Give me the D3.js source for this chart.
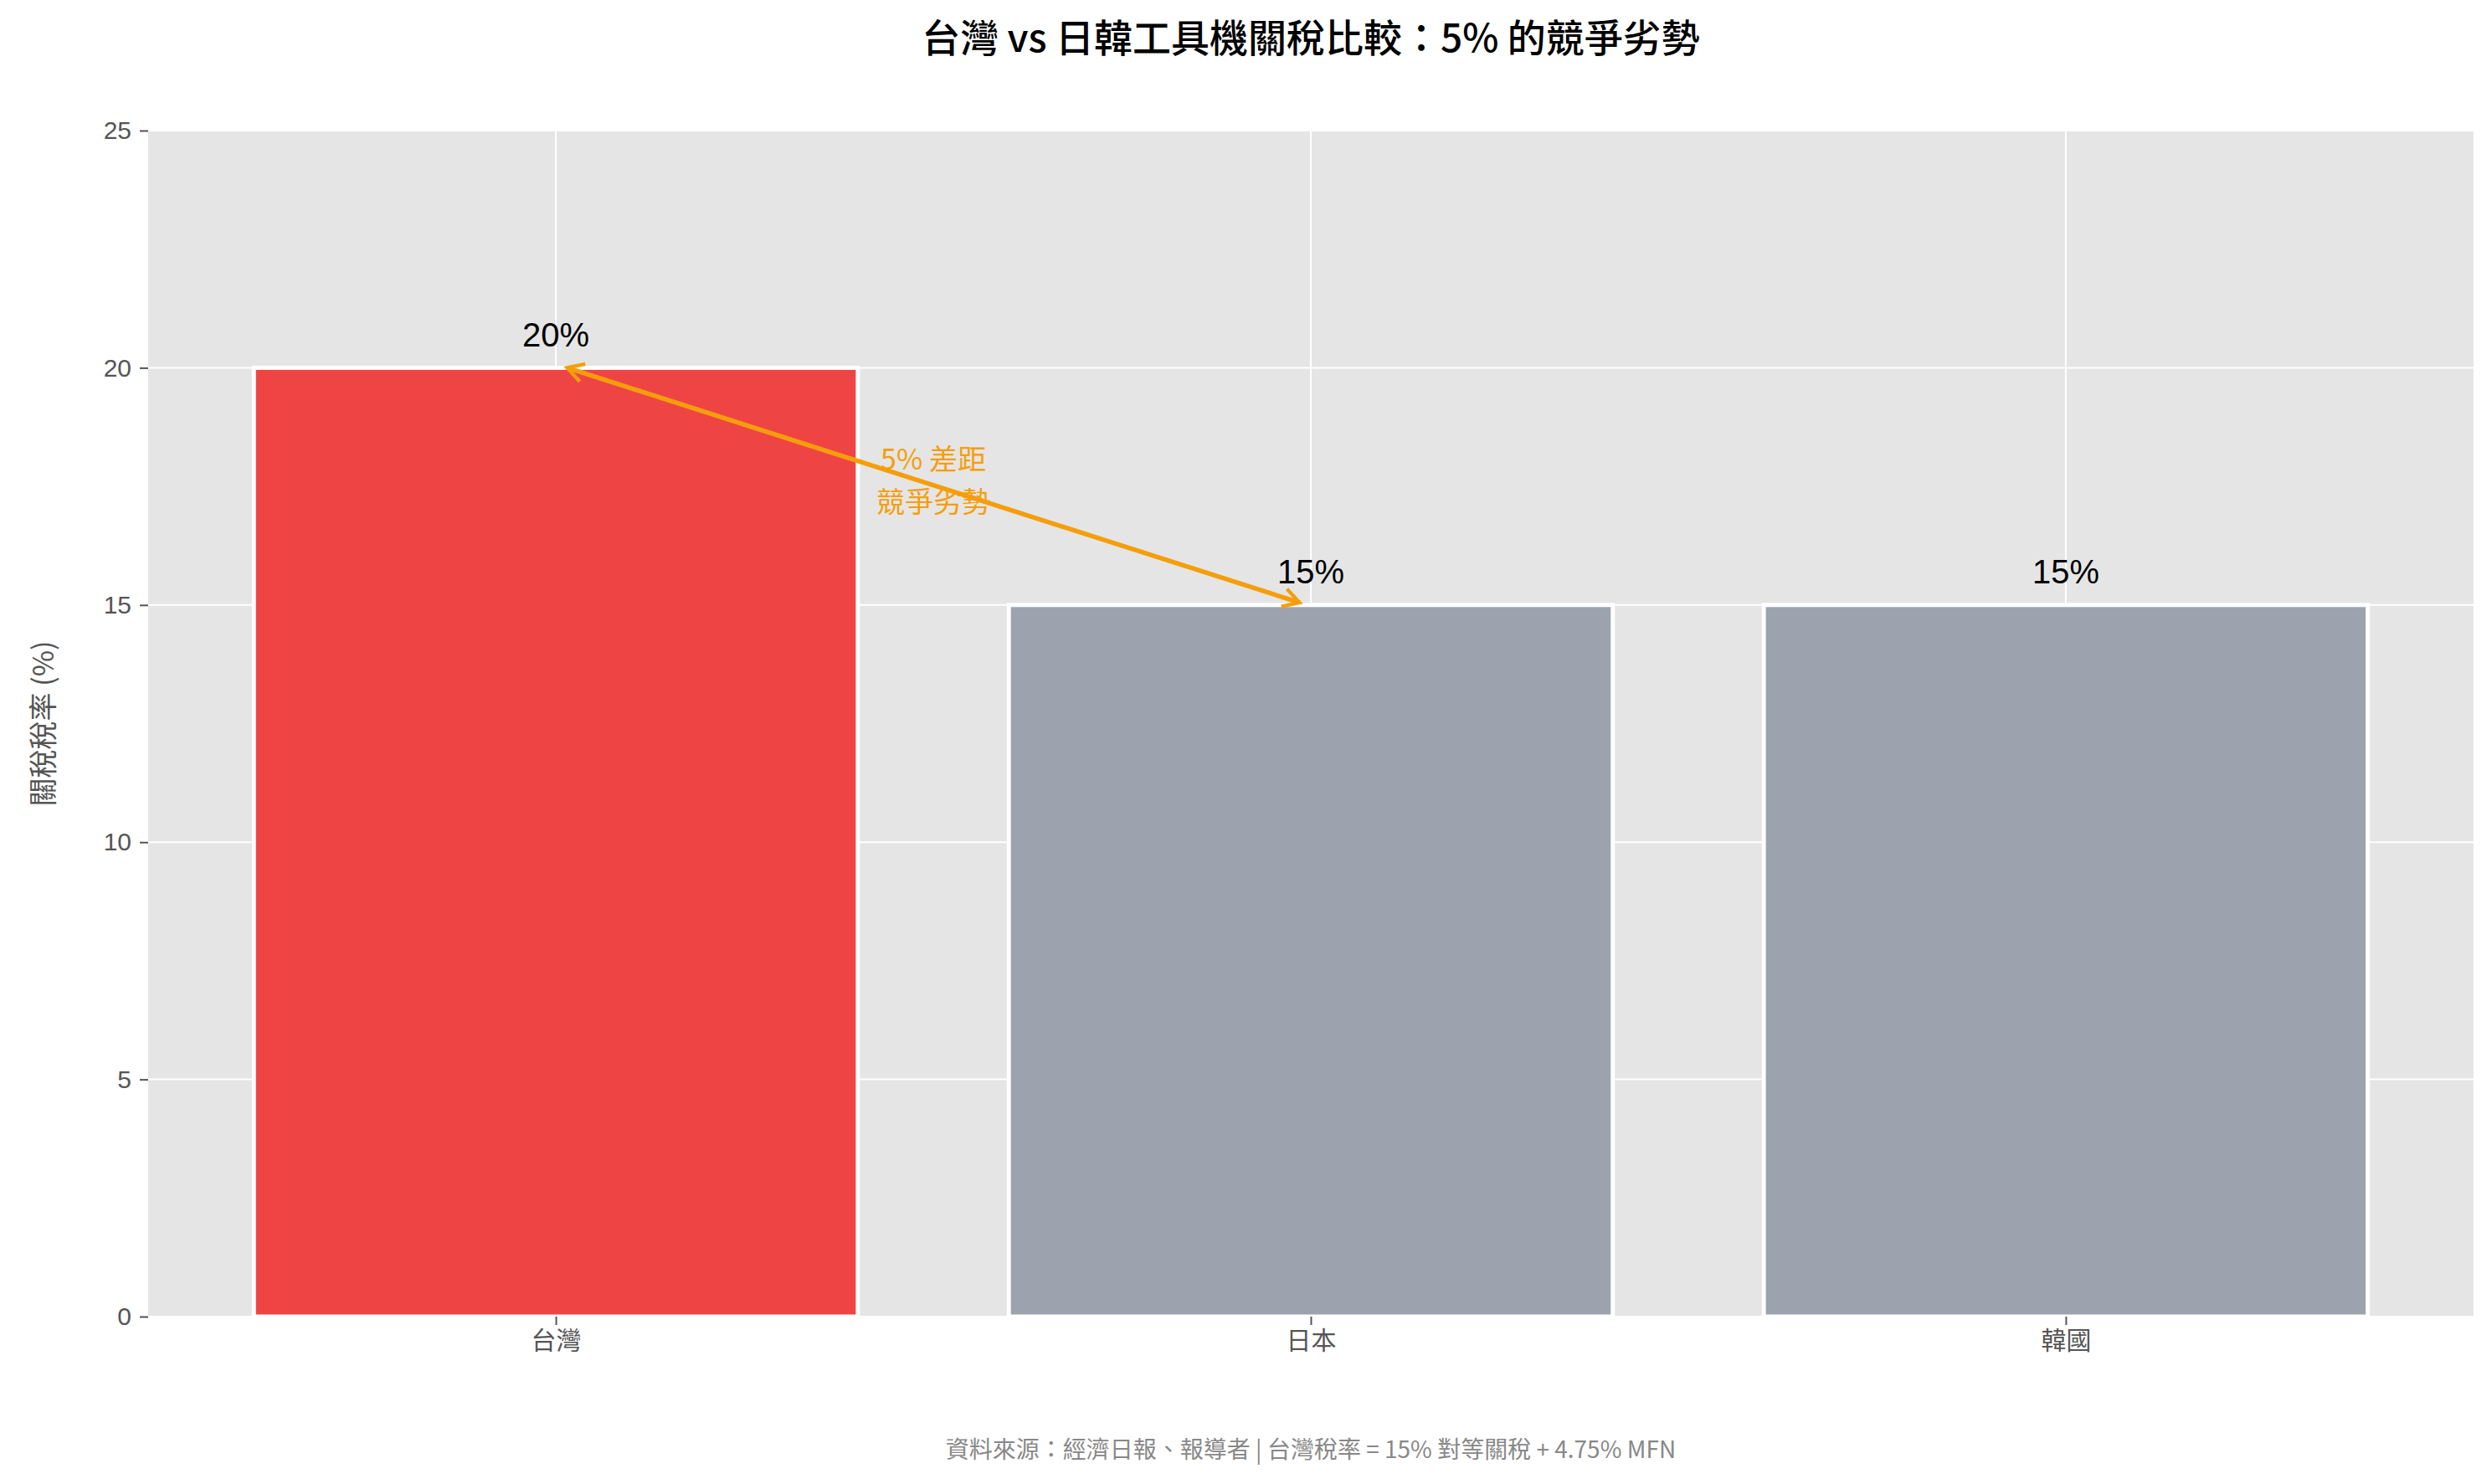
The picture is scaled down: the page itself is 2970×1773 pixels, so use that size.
<!DOCTYPE html>
<html><head><meta charset="utf-8">
<script src="https://cdn.jsdelivr.net/npm/d3@7"></script>
<style>body{margin:0;background:#fff}</style>
</head><body><div id="chart"></div>
<script>
const categories = ["台灣", "日本", "韓國"];
const tariffs = [20, 15, 15];
const barColors = ["#ef4444", "#9ca3af", "#9ca3af"];
const yTicks = [0, 5, 10, 15, 20, 25];

const W = 2970, H = 1773;
const margin = { left: 177, right: 15, top: 156, bottom: 200 };
const font = "'Noto Sans CJK TC', 'Liberation Sans', sans-serif";

const svg = d3.select("#chart").append("svg")
  .attr("width", W).attr("height", H)
  .style("font-family", font);

const x = d3.scaleLinear().domain([-0.54, 2.54]).range([margin.left, W - margin.right]);
const y = d3.scaleLinear().domain([0, 25]).range([H - margin.bottom, margin.top]);

svg.append("rect")
  .attr("x", x.range()[0]).attr("y", y(25))
  .attr("width", x.range()[1] - x.range()[0]).attr("height", y(0) - y(25))
  .attr("fill", "#e5e5e5");

// grid
svg.append("g").selectAll("line").data(yTicks).join("line")
  .attr("x1", x.range()[0]).attr("x2", x.range()[1])
  .attr("y1", d => y(d)).attr("y2", d => y(d))
  .attr("stroke", "#fff").attr("stroke-width", 2);
svg.append("g").selectAll("line").data(d3.range(categories.length)).join("line")
  .attr("x1", d => x(d)).attr("x2", d => x(d))
  .attr("y1", y(0)).attr("y2", y(25))
  .attr("stroke", "#fff").attr("stroke-width", 2);

// bars
const bw = 0.8;
svg.append("g").selectAll("rect").data(tariffs).join("rect")
  .attr("x", (d, i) => x(i - bw / 2)).attr("width", x(bw) - x(0))
  .attr("y", d => y(d)).attr("height", d => y(0) - y(d))
  .attr("fill", (d, i) => barColors[i])
  .attr("stroke", "#fff").attr("stroke-width", 5);

svg.append("g").selectAll("text").data(tariffs).join("text")
  .attr("x", (d, i) => x(i)).attr("y", d => y(d + 0.45))
  .attr("text-anchor", "middle").attr("font-size", 40)
  .attr("font-family", "'Liberation Sans', sans-serif")
  .text(d => d + "%");

// axes
const yAxis = svg.append("g").attr("transform", `translate(${margin.left},0)`)
  .call(d3.axisLeft(y).tickValues(yTicks).tickSize(10).tickPadding(10));
const xAxis = svg.append("g").attr("transform", `translate(0,${y(0)})`)
  .call(d3.axisBottom(x).tickValues(d3.range(categories.length)).tickFormat(i => categories[i]).tickSize(10).tickPadding(8));
[yAxis, xAxis].forEach(a => {
  a.select(".domain").remove();
  a.selectAll(".tick line").attr("stroke", "#555").attr("stroke-width", 2);
  a.selectAll(".tick text").attr("fill", "#555").attr("font-size", 30).style("font-family", font);
});
yAxis.selectAll(".tick text").style("font-family", "'Liberation Sans', sans-serif");

svg.append("text")
  .attr("transform", `translate(55,${(y(0) + y(25)) / 2}) rotate(-90)`)
  .attr("text-anchor", "middle").attr("dominant-baseline", "middle")
  .attr("font-size", 34).attr("fill", "#555").text("關稅稅率 (%)");

// arrow
const orange = "#f59e0b";
const defs = svg.append("defs");
defs.append("marker").attr("id", "ah").attr("viewBox", "0 0 10 10")
  .attr("refX", 8).attr("refY", 5).attr("markerWidth", 5).attr("markerHeight", 5)
  .attr("orient", "auto-start-reverse")
  .append("path").attr("d", "M1,1 L8,5 L1,9").attr("fill", "none")
  .attr("stroke", orange).attr("stroke-width", 1.6);
svg.append("line")
  .attr("x1", x(0.015)).attr("y1", y(20)).attr("x2", x(0.985)).attr("y2", y(15.05))
  .attr("stroke", orange).attr("stroke-width", 5.5)
  .attr("marker-start", "url(#ah)").attr("marker-end", "url(#ah)");

svg.append("g").selectAll("text").data(["5% 差距", "競爭劣勢"]).join("text")
  .attr("x", x(0.5)).attr("y", (d, i) => y(17.85 - i * 0.9))
  .attr("text-anchor", "middle").attr("font-size", 34).attr("fill", orange)
  .text(d => d);

svg.append("text").attr("x", (x.range()[0] + x.range()[1]) / 2).attr("y", 62)
  .attr("text-anchor", "middle").attr("font-size", 46).attr("font-weight", 500)
  .text("台灣 vs 日韓工具機關稅比較：5% 的競爭劣勢");

svg.append("text").attr("x", (x.range()[0] + x.range()[1]) / 2).attr("y", 1742)
  .attr("text-anchor", "middle").attr("font-size", 28).attr("fill", "#888")
  .text("資料來源：經濟日報、報導者 | 台灣稅率 = 15% 對等關稅 + 4.75% MFN");
</script></body></html>
